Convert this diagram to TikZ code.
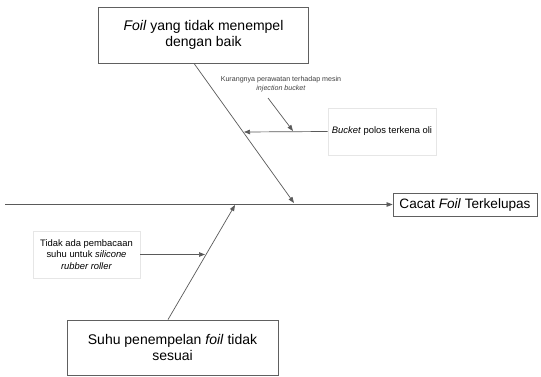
\documentclass[tikz,border=0pt]{standalone}
\usepackage{fontspec}
\setmainfont{Liberation Sans}
\usetikzlibrary{arrows.meta}
\definecolor{linegray}{HTML}{5A5A5A}
\definecolor{boxgray}{HTML}{606060}
\definecolor{faintgray}{HTML}{E6E6E6}
\definecolor{notegray}{HTML}{404040}
\begin{document}
\begin{tikzpicture}[x=1pt,y=-1pt,
  bigbox/.style={draw=boxgray, line width=0.8pt, align=center, inner sep=0pt,
    font=\fontsize{14}{15.5}\selectfont, minimum width=210pt, minimum height=56pt},
  effectbox/.style={draw=boxgray, line width=0.8pt, inner sep=0pt,
    font=\fontsize{13.6}{16}\selectfont, minimum width=144pt, minimum height=23pt},
  faintbox/.style={draw=faintgray, line width=0.6pt, align=center, inner sep=0pt,
    font=\fontsize{9.4}{11.5}\selectfont, minimum width=107pt, minimum height=47pt},
  notetext/.style={align=center, inner sep=0pt, text=notegray,
    font=\fontsize{7.1}{9}\selectfont},
  conn/.style={draw=linegray, line width=0.7pt,
    -{Triangle[length=6pt,width=4.5pt]}},
]
\useasboundingbox[fill=white] (0,0) rectangle (541,377);

% nodes
\node[bigbox] (top) at (203.5,35) {\textit{Foil} yang tidak menempel\\dengan baik};
\node[bigbox, minimum width=211pt, minimum height=55pt] (bottom) at (172.5,347.5) {Suhu penempelan \textit{foil} tidak\\sesuai};
\node[effectbox] (effect) at (465,204.5) {Cacat \textit{Foil} Terkelupas};
\node[faintbox, minimum width=108pt] (bucket) at (382,131.5) {\textit{Bucket} polos terkena oli};
\node[faintbox] (left) at (86.5,254.5) {Tidak ada pembacaan\\suhu untuk \textit{silicone}\\\textit{rubber roller}};
\node[notetext] (note) at (281,84) {Kurangnya perawatan terhadap mesin\\\textit{injection bucket}};

% coordinates on the bones
\coordinate (spine) at (5,204.5);
\coordinate (j1) at (294,203);
\coordinate (j2) at (244,132);
\coordinate (n1) at (268,98);
\coordinate (j3) at (293,131);
\coordinate (j4) at (205,254.5);
\coordinate (j5) at (235,205);

% connectors
\draw[conn] (spine) -- (effect.west);
\draw[conn] ([xshift=-9.5pt]top.south) -- (j1);
\draw[conn] (bucket.west) -- (j2);
\draw[conn] (n1) -- (j3);
\draw[conn] ([xshift=-4.5pt]bottom.north) -- (j5);
\draw[conn] (left.east) -- (j4);
\end{tikzpicture}
\end{document}
